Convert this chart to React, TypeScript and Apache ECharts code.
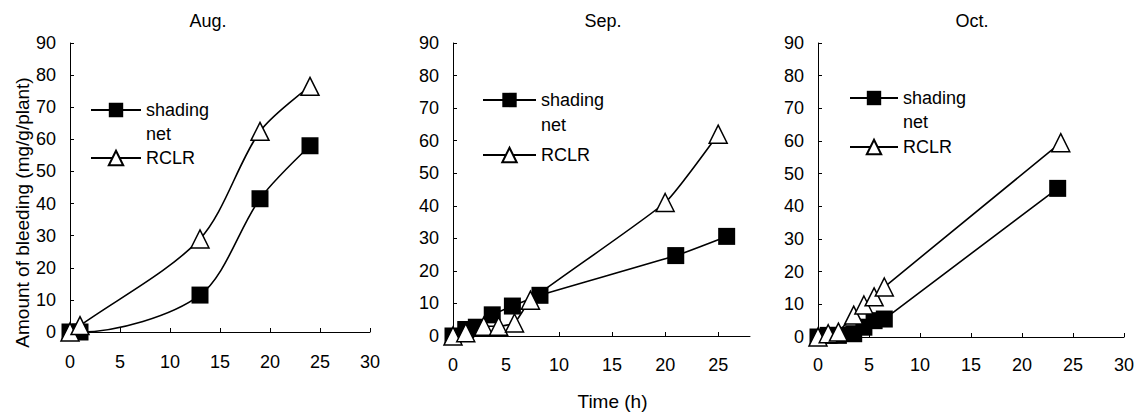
import React, { useEffect, useRef } from "react";
import * as echarts from "echarts";

// ---------- data ----------
const panelTitles = ["Aug.", "Sep.", "Oct."];
const seriesNames = ["shading net", "RCLR"];

const augShadingTime = [0, 1, 13, 19, 24];
const augShading = [0, 0, 11.5, 41.5, 58];
const augRCLRTime = [0, 1, 13, 19, 24];
const augRCLR = [0, 2, 29, 62.5, 76.5];

const sepShadingTime = [0, 1.2, 2.2, 3.7, 5.6, 8.2, 21, 25.8];
const sepShading = [0, 2, 2.7, 6.5, 9.2, 12.5, 24.7, 30.6];
const sepRCLRTime = [0, 1.2, 2.9, 4.3, 5.8, 7.3, 20, 25];
const sepRCLR = [0, 1, 3, 3, 4, 11, 41, 62];

const octShadingTime = [0, 1, 2, 3.5, 4.5, 5.5, 6.5, 23.5];
const octShading = [0, 0.5, 0.5, 1, 3, 5, 5.5, 45.5];
const octRCLRTime = [0, 1, 2, 3.5, 4.5, 5.5, 6.5, 23.8];
const octRCLR = [0, 1, 1.5, 6.7, 9.8, 12.3, 15.3, 59.5];

const xMaxes = [30, 28, 30];
const yTickLabels = [0, 10, 20, 30, 40, 50, 60, 70, 80, 90];
const yAxisName = "Amount of bleeding (mg/g/plant)";
const xAxisName = "Time (h)";

const zip = (xs: number[], ys: number[]) => xs.map((x, i) => [x, ys[i]]);

const panels = [
  { shading: zip(augShadingTime, augShading), rclr: zip(augRCLRTime, augRCLR), smooth: 0.3 },
  { shading: zip(sepShadingTime, sepShading), rclr: zip(sepRCLRTime, sepRCLR), smooth: 0.15 },
  { shading: zip(octShadingTime, octShading), rclr: zip(octRCLRTime, octRCLR), smooth: 0 },
];

// ---------- layout ----------
const FONT = "'Liberation Sans', Arial, sans-serif";
const grids = [
  { left: 70, top: 43, width: 300, height: 289 },
  { left: 453, top: 43, width: 297, height: 301 },
  { left: 818, top: 43, width: 308, height: 294 },
];
const titleLefts = [208, 603, 972];
const legendPos = [
  { left: 90, top: 74, itemWidth: 50, gap: 0, lh: 24 },
  { left: 482, top: 62.5, itemWidth: 53, gap: 5, lh: 25 },
  { left: 849, top: 62, itemWidth: 48, gap: 1, lh: 24 },
];
const xLabelMargins = [21, 20, 19];

export default function App() {
  const ref = useRef<HTMLDivElement>(null);

  useEffect(() => {
    if (!ref.current) return;
    const chart = echarts.init(ref.current, undefined, { renderer: "svg" });

    const title = panelTitles.map((t, i) => ({
      text: t,
      left: titleLefts[i],
      top: 12,
      textAlign: "center",
      padding: 0,
      textStyle: { fontFamily: FONT, fontSize: 18, fontWeight: "normal", color: "#000" },
    }));

    const legend = legendPos.map((p) => ({
      left: p.left,
      top: p.top,
      orient: "vertical",
      padding: 0,
      itemGap: p.gap,
      itemWidth: p.itemWidth,
      itemHeight: 18,
      selectedMode: false,
      // leading empty line keeps the icon level with "shading" and puts "net" underneath
      formatter: (name: string) => (name === "shading net" ? "\nshading\nnet" : name),
      textStyle: { fontFamily: FONT, fontSize: 18, color: "#000", lineHeight: p.lh },
      data: seriesNames,
    }));

    const xAxis = grids.map((_, i) => ({
      type: "value",
      gridIndex: i,
      min: 0,
      max: xMaxes[i],
      interval: 5,
      name: i === 1 ? xAxisName : "",
      nameLocation: "middle",
      nameGap: 56,
      nameTextStyle: { fontFamily: FONT, fontSize: 19, color: "#000", padding: [0, 0, 0, 22] },
      axisLine: { show: true, lineStyle: { color: "#000", width: 1 } },
      axisTick: { show: true, inside: true, length: 4, lineStyle: { color: "#000" } },
      axisLabel: {
        fontFamily: FONT,
        fontSize: 18,
        color: "#000",
        margin: xLabelMargins[i],
        showMaxLabel: i !== 1,
        formatter: (v: number) => (v % 5 === 0 ? String(v) : ""),
      },
      splitLine: { show: false },
    }));

    const yAxis = grids.map((_, i) => ({
      type: "value",
      gridIndex: i,
      min: yTickLabels[0],
      max: yTickLabels[yTickLabels.length - 1],
      interval: 10,
      name: i === 0 ? yAxisName : "",
      nameLocation: "middle",
      nameRotate: 90,
      nameGap: 38,
      nameTextStyle: { fontFamily: FONT, fontSize: 19, color: "#000", padding: [0, 50, 0, 0] },
      axisLine: { show: true, lineStyle: { color: "#000", width: 1 } },
      axisTick: { show: true, inside: true, length: 4, lineStyle: { color: "#000" } },
      axisLabel: { fontFamily: FONT, fontSize: 18, color: "#000", margin: 14 },
      splitLine: { show: false },
    }));

    const series: any[] = [];
    panels.forEach((p, i) => {
      series.push({
        name: seriesNames[0],
        type: "line",
        xAxisIndex: i,
        yAxisIndex: i,
        data: p.shading,
        smooth: p.smooth || false,
        symbol: "rect",
        symbolSize: 17,
        itemStyle: { color: "#000", borderColor: "#000", borderWidth: 0 },
        lineStyle: { color: "#000", width: 1.6 },
        z: 2,
      });
      series.push({
        name: seriesNames[1],
        type: "line",
        xAxisIndex: i,
        yAxisIndex: i,
        data: p.rclr,
        smooth: p.smooth || false,
        symbol: "triangle",
        symbolSize: 18,
        itemStyle: { color: "#fff", borderColor: "#000", borderWidth: 1.5 },
        lineStyle: { color: "#000", width: 1.6 },
        z: 3,
      });
    });

    chart.setOption({
      animation: false,
      backgroundColor: "#fff",
      title,
      legend,
      grid: grids.map((g) => ({ ...g, containLabel: false })),
      xAxis,
      yAxis,
      series,
    });

    return () => chart.dispose();
  }, []);

  return (
    <div
      ref={ref}
      style={{ position: "absolute", left: 0, top: 0, width: 1137, height: 416 }}
    />
  );
}
